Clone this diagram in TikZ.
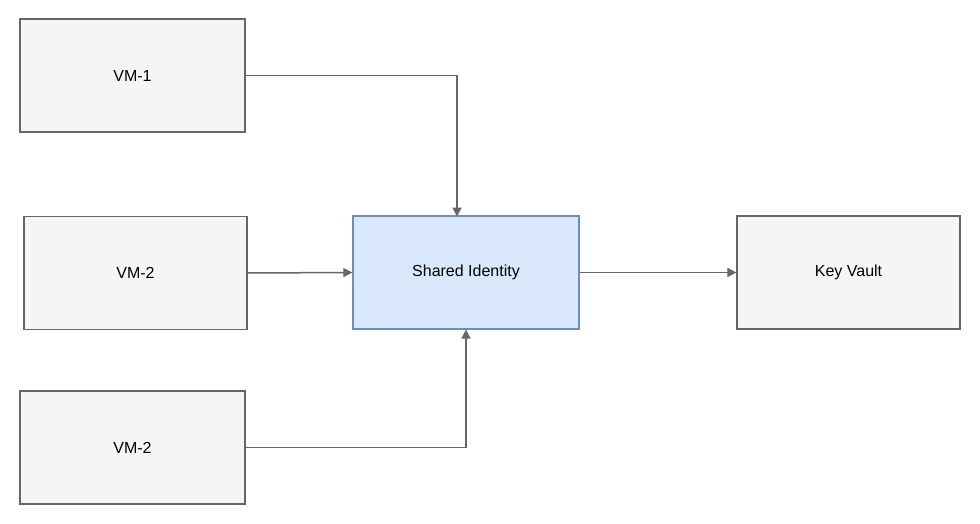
\documentclass[tikz,border=0pt]{standalone}
\usepackage{fontspec}
\setmainfont{Liberation Sans}
\usetikzlibrary{arrows.meta}
\definecolor{gfill}{HTML}{F5F5F5}
\definecolor{gline}{HTML}{666666}
\definecolor{bfill}{HTML}{DAE8FC}
\definecolor{bline}{HTML}{6C8EBF}
\begin{document}
\begin{tikzpicture}[x=1pt,y=-1pt,
  box/.style={draw=gline,fill=gfill,line width=1.2pt,minimum width=225pt,minimum height=113pt,font=\fontsize{16}{19}\selectfont},
  bbox/.style={box,draw=bline,fill=bfill},
  conn/.style={draw=gline,line width=1.5pt,-{Triangle[length=9pt,width=9pt]}}]
\useasboundingbox (0,0) rectangle (980,524);
\node[box] (vm1) at (132.5,75.5) {VM-1};
\node[box,minimum width=223pt] (vm2) at (135.5,273) {VM-2};
\node[box] (vm3) at (132.5,447.5) {VM-2};
\node[bbox,minimum width=226pt] (si) at (466,272.5) {Shared Identity};
\node[box,minimum width=223pt] (kv) at (848.5,272.5) {Key Vault};
\coordinate (t) at (457,216.5);
\draw[conn] (vm1.east) -| (t);
\draw[conn] (vm2.east) -- (si.west);
\draw[conn] (vm3.east) -| (si.south);
\draw[conn] (si.east) -- (kv.west);
\end{tikzpicture}
\end{document}
